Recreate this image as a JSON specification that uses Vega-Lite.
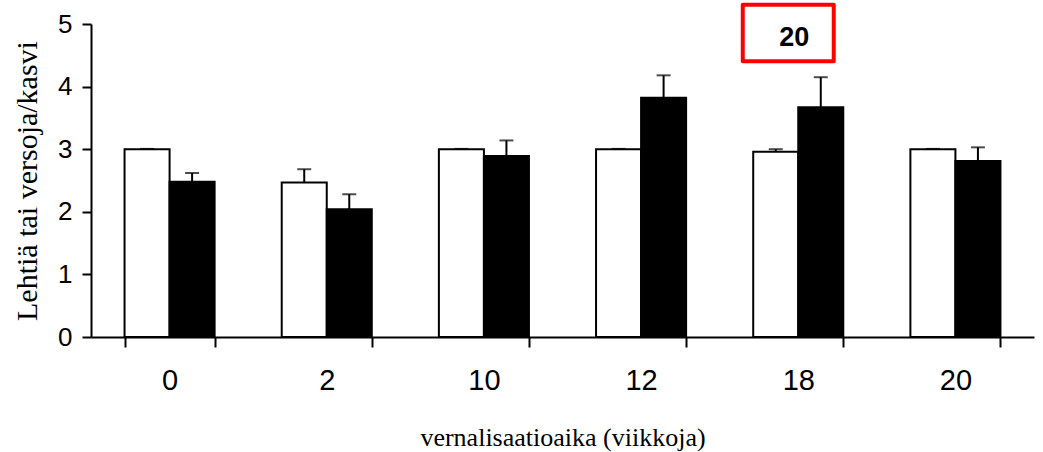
{
  "$schema": "https://vega.github.io/schema/vega-lite/v6.json",
  "width": 943,
  "height": 313,
  "autosize": "none",
  "padding": {"left": 91, "top": 24, "right": 9, "bottom": 115},
  "background": "white",
  "config": {"view": {"stroke": null}},
  "encoding": {
    "x": {
      "field": "week",
      "type": "nominal",
      "sort": ["0", "2", "10", "12", "18", "20"],
      "scale": {"paddingInner": 0.427, "paddingOuter": 0.2135},
      "title": "vernalisaatioaika (viikkoja)",
      "axis": {
        "labelAngle": 0,
        "domainColor": "black",
        "domainWidth": 2,
        "tickColor": "black",
        "tickWidth": 2,
        "tickSize": 10,
        "tickBand": "extent",
        "labelFont": "Liberation Sans",
        "labelFontSize": 29,
        "labelColor": "black",
        "labelPadding": 19,
        "titleFont": "Liberation Serif",
        "titleFontSize": 26,
        "titleFontWeight": "normal",
        "titleColor": "black",
        "titlePadding": 29
      }
    }
  },
  "layer": [
    {
      "data": {"name": "bars", "values": [
        {"week": "0", "series": "a", "value": 3.0, "upper": 3.005},
        {"week": "0", "series": "b", "value": 2.48, "upper": 2.62},
        {"week": "2", "series": "a", "value": 2.47, "upper": 2.68},
        {"week": "2", "series": "b", "value": 2.04, "upper": 2.28},
        {"week": "10", "series": "a", "value": 3.0, "upper": 3.005},
        {"week": "10", "series": "b", "value": 2.89, "upper": 3.14},
        {"week": "12", "series": "a", "value": 3.0, "upper": 3.005},
        {"week": "12", "series": "b", "value": 3.82, "upper": 4.18},
        {"week": "18", "series": "a", "value": 2.96, "upper": 3.0},
        {"week": "18", "series": "b", "value": 3.67, "upper": 4.15},
        {"week": "20", "series": "a", "value": 3.0, "upper": 3.005},
        {"week": "20", "series": "b", "value": 2.81, "upper": 3.03}
      ]},
      "layer": [
        {
          "mark": {"type": "bar", "stroke": "black", "strokeWidth": 2},
          "encoding": {
            "xOffset": {"field": "series", "type": "nominal", "scale": {"paddingInner": 0, "paddingOuter": 0}},
            "y": {
              "field": "value",
              "type": "quantitative",
              "scale": {"domain": [0, 5], "nice": false},
              "title": "Lehtiä tai versoja/kasvi",
              "axis": {
                "values": [0, 1, 2, 3, 4, 5],
                "format": "d",
                "grid": false,
                "domainColor": "black",
                "domainWidth": 2,
                "tickColor": "black",
                "tickWidth": 2,
                "tickSize": 9,
                "labelFont": "Liberation Sans",
                "labelFontSize": 26,
                "labelColor": "black",
                "labelPadding": 10,
                "titleFont": "Liberation Serif",
                "titleFontSize": 30,
                "titleFontWeight": "normal",
                "titleColor": "black",
                "titlePadding": 15
              }
            },
            "color": {"field": "series", "type": "nominal", "scale": {"domain": ["a", "b"], "range": ["white", "black"]}, "legend": null}
          }
        },
        {
          "mark": {"type": "rule", "color": "black", "strokeWidth": 2},
          "encoding": {
            "xOffset": {"field": "series", "type": "nominal"},
            "y": {"field": "value", "type": "quantitative"},
            "y2": {"field": "upper"}
          }
        },
        {
          "mark": {"type": "tick", "color": "black", "size": 14, "thickness": 2},
          "encoding": {
            "xOffset": {"field": "series", "type": "nominal"},
            "y": {"field": "upper", "type": "quantitative"}
          }
        }
      ]
    },
    {
      "data": {"name": "note", "values": [{"week": "18", "pos": 4.856, "tpos": 4.78, "label": "20"}]},
      "layer": [
        {
          "mark": {"type": "point", "shape": "M-1,-0.622L1,-0.622L1,0.622L-1,0.622Z", "size": 8281, "filled": true, "fill": "white", "stroke": "#ff0000", "strokeWidth": 4, "strokeJoin": "round", "opacity": 1, "xOffset": -10},
          "encoding": {"y": {"field": "pos", "type": "quantitative"}}
        },
        {
          "mark": {"type": "text", "font": "Liberation Sans", "fontWeight": "bold", "fontSize": 27, "color": "black", "baseline": "middle", "align": "center", "xOffset": -4},
          "encoding": {"y": {"field": "tpos", "type": "quantitative"}, "text": {"field": "label"}}
        }
      ]
    }
  ]
}
